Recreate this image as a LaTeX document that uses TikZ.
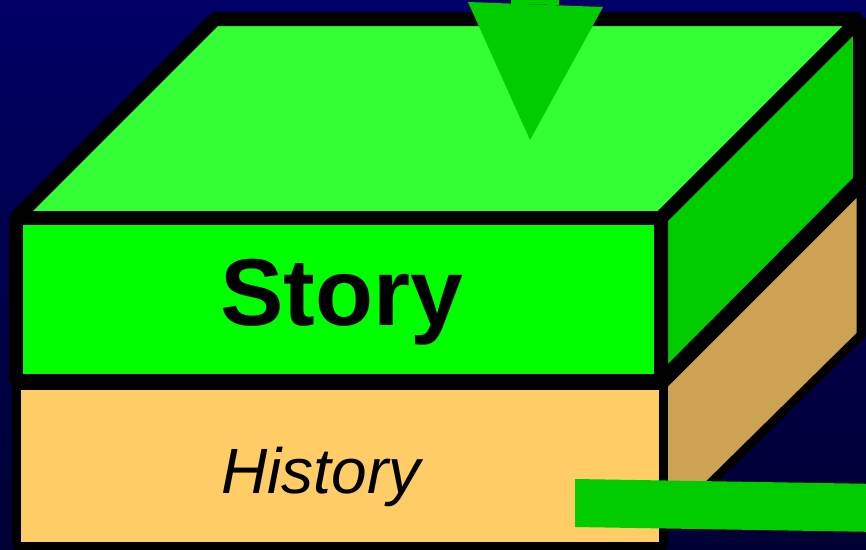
\documentclass[tikz,border=0pt]{standalone}
\usepackage{fontspec}
\setmainfont{Liberation Sans}
\usepackage{tikz}
\usetikzlibrary{positioning,calc}

\definecolor{topgreen}{RGB}{51,255,51}
\definecolor{frontgreen}{RGB}{0,255,0}
\definecolor{sidegreen}{RGB}{0,204,0}
\definecolor{fronttan}{RGB}{255,204,102}
\definecolor{sidetan}{RGB}{204,163,82}

\begin{document}
\begin{tikzpicture}[x=1pt,y=-1pt,line join=bevel,
	layer/.style={draw=black,line width=14pt},
	arrowfill/.style={fill=sidegreen}]
	% background
	\shade[top color={rgb,255:red,0;green,0;blue,102},bottom color={rgb,255:red,0;green,0;blue,51}]
		(0,0) rectangle (866,549);
	\useasboundingbox (0,0) rectangle (866,549);

	% lower block (history)
	\draw[layer,line width=9pt,fill=sidetan] (663,385) -- (861,187) -- (861,335) -- (663,530) -- cycle;
	\draw[layer,line width=9pt,fill=fronttan] (16,385) rectangle (663,546);
	\node[anchor=base,font=\fontsize{64}{64}\selectfont\itshape] at (321,493) (history) {History};

	% upper block (story)
	\draw[layer,fill=topgreen] (16,218) -- (215,19) -- (860,19) -- (661,218) -- cycle;
	\draw[layer,fill=sidegreen] (661,218) -- (860,19) -- (860,181) -- (661,381) -- cycle;
	\draw[layer,fill=frontgreen] (16,218) rectangle (661,381);
	\node[anchor=base,font=\fontsize{95}{95}\selectfont\bfseries] at (342,325) (story) {Story};

	% arrows
	\fill[arrowfill] (511,-10) -- (559,-10) -- (559,5) -- (511,4) -- cycle;
	\fill[arrowfill] (468,2) -- (603,7) -- (530,140) -- cycle;
	\fill[arrowfill] (575,479) -- (880,484) -- (880,532) -- (575,527) -- cycle;
\end{tikzpicture}
\end{document}
